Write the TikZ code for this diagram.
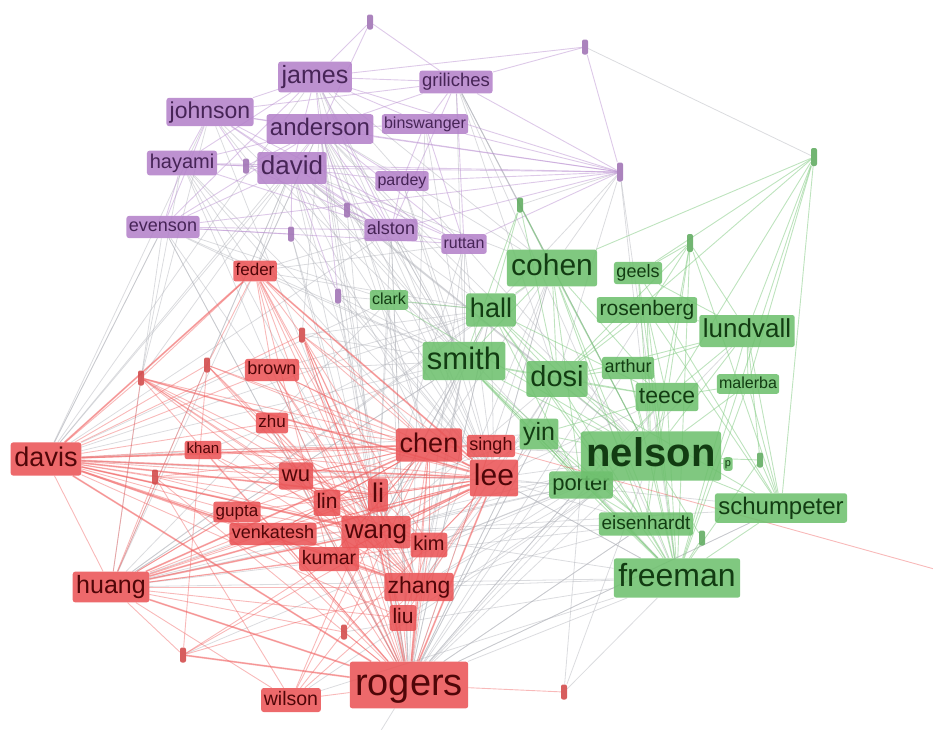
\documentclass[tikz,border=0pt]{standalone}
\usepackage{fontspec}
\setmainfont{Liberation Sans}
\usetikzlibrary{backgrounds}

\definecolor{vpurple}{RGB}{180,130,202}
\definecolor{vpurpletext}{RGB}{70,36,86}
\definecolor{vgreen}{RGB}{110,192,110}
\definecolor{vgreentext}{RGB}{18,60,18}
\definecolor{vred}{RGB}{234,84,86}
\definecolor{vredtext}{RGB}{80,6,8}
\definecolor{pline}{RGB}{188,148,210}
\definecolor{gline}{RGB}{125,200,125}
\definecolor{rline}{RGB}{240,100,100}
\definecolor{xline}{RGB}{175,177,184}

\tikzset{
	vlabel/.style={rounded corners=2.5pt, inner xsep=0.14*#1pt, inner ysep=0.13*#1pt,
		text height=0.75*#1pt, text depth=0.22*#1pt, fill opacity=.88, text opacity=1,
		font=\fontsize{#1}{#1}\selectfont},
	pnode/.style={vlabel=#1, fill=vpurple, text=vpurpletext},
	gnode/.style={vlabel=#1, fill=vgreen, text=vgreentext},
	rnode/.style={vlabel=#1, fill=vred, text=vredtext},
	vdot/.style={rounded corners=2pt, minimum width=6pt, minimum height=15pt, inner sep=0pt, fill opacity=.9},
	pdot/.style={vdot, fill=vpurple!90!black},
	gdot/.style={vdot, fill=vgreen!90!black},
	rdot/.style={vdot, fill=vred!90!black},
	pedge/.style={pline, line width=.9pt, opacity=.5},
	gedge/.style={gline, line width=.9pt, opacity=.5},
	redge/.style={rline, line width=.9pt, opacity=.45},
	xedge/.style={xline, line width=.8pt, opacity=.45},
}

\begin{document}
\begin{tikzpicture}[x=1pt, y=-1pt]
	\useasboundingbox (0,0) rectangle (933,729);
	%%%%% PURPLE CLUSTER %%%%%
	\node[pdot] (pd1) at (370,22) {};
	\node[pdot] (pd2) at (585,47) {};
	\node[pdot] (pd3) at (246,166) {};
	\node[pdot, minimum height=19pt] (pd4) at (620,172) {};
	\node[pdot] (pd5) at (347,210) {};
	\node[pdot] (pd6) at (291,234) {};
	\node[pdot] (pd7) at (338,296) {};
	\node[pnode=25] (james) at (315,77) {james};
	\node[pnode=18.5] (griliches) at (456,82) {griliches};
	\node[pnode=23] (johnson) at (210,112) {johnson};
	\node[pnode=24] (anderson) at (320,129) {anderson};
	\node[pnode=16] (binswanger) at (425,124) {binswanger};
	\node[pnode=20] (hayami) at (182,163) {hayami};
	\node[pnode=26] (david) at (292,168) {david};
	\node[pnode=16] (pardey) at (402,181) {pardey};
	\node[pnode=18] (evenson) at (163,227) {evenson};
	\node[pnode=18] (alston) at (391,230) {alston};
	\node[pnode=16] (ruttan) at (464,244) {ruttan};
	
	%%%%% GREEN CLUSTER %%%%%
	\node[gdot, minimum height=18pt] (gd1) at (814,157) {};
	\node[gdot] (gd2) at (520,205) {};
	\node[gdot, minimum height=18pt] (gd3) at (690,243) {};
	\node[gdot] (gd4) at (760,460) {};
	\node[gdot] (gd5) at (702,538) {};
	\node[gnode=30] (cohen) at (552,268) {cohen};
	\node[gnode=18] (geels) at (638,273) {geels};
	\node[gnode=16] (clark) at (389,300) {clark};
	\node[gnode=27] (hall) at (491,310) {hall};
	\node[gnode=21] (rosenberg) at (647,310) {rosenberg};
	\node[gnode=26] (lundvall) at (747,331) {lundvall};
	\node[gnode=31] (smith) at (464,361) {smith};
	\node[gnode=29] (dosi) at (557,379) {dosi};
	\node[gnode=18] (arthur) at (628,368) {arthur};
	\node[gnode=23] (teece) at (667,397) {teece};
	\node[gnode=16] (malerba) at (748,384) {malerba};
	\node[gnode=25] (yin) at (539,434) {yin};
	\node[gnode=22] (porter) at (581,485) {porter};
	\node[gnode=40] (nelson) at (651,456) {\bfseries nelson};
	\node[gnode=11] (pp) at (728,464) {p};
	\node[gnode=24] (schumpeter) at (781,508) {schumpeter};
	\node[gnode=19] (eisenhardt) at (646,524) {eisenhardt};
	\node[gnode=32] (freeman) at (677,578) {freeman};
	
	%%%%% RED CLUSTER %%%%%
	\node[rdot] (rd1) at (302,335) {};
	\node[rdot] (rd2) at (207,365) {};
	\node[rdot] (rd3) at (141,378) {};
	\node[rdot] (rd4) at (155,477) {};
	\node[rdot] (rd5) at (183,655) {};
	\node[rdot] (rd6) at (344,632) {};
	\node[rdot] (rd7) at (564,692) {};
	\node[rnode=17] (feder) at (255,271) {feder};
	\node[rnode=18] (brown) at (272,370) {brown};
	\node[rnode=17] (zhu) at (272,423) {zhu};
	\node[rnode=15] (khan) at (203,450) {khan};
	\node[rnode=27] (davis) at (46,459) {davis};
	\node[rnode=27] (chen) at (429,445) {chen};
	\node[rnode=18] (singh) at (491,446) {singh};
	\node[rnode=30] (lee) at (494,478) {lee};
	\node[rnode=22] (wu) at (296,476) {wu};
	\node[rnode=21] (lin) at (327,503) {lin};
	\node[rnode=27] (li) at (378,495) {li};
	\node[rnode=17] (gupta) at (237,512) {gupta};
	\node[rnode=18] (venkatesh) at (273,534) {venkatesh};
	\node[rnode=26] (wang) at (376,532) {wang};
	\node[rnode=20] (kim) at (429,545) {kim};
	\node[rnode=19.5] (kumar) at (329,559) {kumar};
	\node[rnode=25] (huang) at (111,587) {huang};
	\node[rnode=23] (zhang) at (419,587) {zhang};
	\node[rnode=21] (liu) at (403,618) {liu};
	\node[rnode=38] (rogers) at (409,685) {rogers};
	\node[rnode=19.5] (wilson) at (291,700) {wilson};
	\coordinate (offR) at (945,572);
	\coordinate (offB) at (372,745);
	
	%%%%% LINKS %%%%%
	\begin{scope}[on background layer]
		% between clusters
		\foreach \a/\b in {rogers/nelson, rogers/freeman, rogers/porter, rogers/smith, rogers/cohen,
			rogers/dosi, rogers/schumpeter, rogers/eisenhardt, rogers/hall, rogers/yin, rogers/david,
			rogers/anderson, rogers/evenson, rogers/alston, lee/nelson, lee/smith, lee/freeman, lee/cohen,
			chen/smith, chen/nelson, wang/smith, wang/nelson, davis/smith, davis/hall, davis/david,
			davis/evenson, davis/anderson, davis/johnson, huang/smith, huang/nelson, huang/hall,
			feder/evenson, feder/alston, feder/david, feder/hayami, feder/anderson, feder/ruttan,
			smith/david, smith/anderson, smith/evenson, smith/alston, smith/johnson, hall/david,
			hall/anderson, cohen/david, cohen/anderson, cohen/james, nelson/david, nelson/anderson,
			nelson/james, nelson/griliches, freeman/david, freeman/griliches, dosi/david, clark/evenson,
			clark/anderson, clark/davis, clark/rogers, pd7/rogers, pd7/smith, pd7/hall, pd6/rogers,
			pd6/wang, pd5/smith, pd5/nelson, pd4/nelson, pd4/freeman, pd4/hall, pd4/dosi, pd4/gd2,
			pd4/cohen, pd2/gd1, james/rogers, james/smith, hayami/rogers, hayami/wang, evenson/wang,
			evenson/huang, griliches/nelson, ruttan/smith, ruttan/rogers, alston/smith, alston/rogers,
			yin/davis, yin/huang, porter/davis, porter/huang, porter/wang, eisenhardt/rogers,
			eisenhardt/lee, eisenhardt/huang, schumpeter/rogers, schumpeter/wang, freeman/huang,
			freeman/wilson, nelson/rd5, nelson/wilson, freeman/rd7, freeman/rd6, rd7/nelson, rd7/porter,
			rogers/offB, johnson/rd3, hayami/rd3, evenson/davis, johnson/wang, johnson/lee, james/lee,
			james/chen, anderson/lee, anderson/wang, anderson/chen, david/chen, david/lee, david/zhang,
			hayami/lee, hayami/chen, alston/lee, alston/wang, ruttan/lee, ruttan/wang, pardey/lee,
			pardey/smith, binswanger/smith, binswanger/rogers, griliches/smith, griliches/dosi,
			griliches/cohen, smith/wang, smith/zhang, smith/li, smith/huang, smith/kim, hall/lee,
			hall/wang, hall/rogers, hall/chen, cohen/lee, cohen/wang, cohen/zhang, cohen/huang,
			dosi/lee, dosi/wang, dosi/rogers, dosi/zhang, nelson/zhang, nelson/kim, nelson/liu,
			freeman/zhang, freeman/lee, freeman/wang, porter/zhang, porter/kim, porter/rogers,
			yin/rogers, yin/wang, yin/zhang, eisenhardt/zhang, eisenhardt/wang, teece/rogers,
			teece/lee, lundvall/rogers, schumpeter/lee, arthur/rogers, rosenberg/rogers, clark/wang,
			clark/lee, clark/huang, pd7/wang, pd7/lee, pd6/lee, pd5/wang, evenson/rogers, davis/alston,
			davis/james, huang/david, huang/anderson, feder/smith, feder/hall, brown/smith, brown/hall,
			rd1/smith, rd1/hall, rd1/anderson, rd3/david, rd2/david, khan/smith, zhu/hall}
			\draw[xedge] (\a) -- (\b);
		% purple
		\foreach \a/\b in {james/johnson, james/anderson, james/david, james/griliches, james/binswanger,
			james/hayami, james/pd1, james/pd4, james/alston, james/evenson, johnson/anderson,
			johnson/david, johnson/hayami, johnson/pd3, johnson/evenson, johnson/pd4, anderson/david,
			anderson/binswanger, anderson/griliches, anderson/pd4, anderson/pardey, anderson/alston,
			anderson/ruttan, david/hayami, david/pd3, david/pd5, david/alston, david/pardey, david/pd4,
			david/evenson, david/ruttan, griliches/binswanger, griliches/pd2, griliches/pd4,
			griliches/ruttan, griliches/alston, binswanger/pd4, binswanger/pardey, binswanger/ruttan,
			pardey/alston, pardey/pd4, alston/ruttan, alston/pd5, evenson/pd6, evenson/alston,
			hayami/pd3, hayami/evenson, pd1/anderson, pd1/griliches, pd2/pd4, pd2/james, ruttan/pd4,
			pd6/david, pd7/david, pd7/anderson, pd5/anderson, hayami/pd4, johnson/griliches,
			johnson/alston, johnson/ruttan, hayami/alston, hayami/anderson, evenson/anderson,
			evenson/ruttan, pd3/anderson, pd3/alston, pd4/alston, pd4/evenson}
			\draw[pedge] (\a) -- (\b);
		% green
		\foreach \a/\b in {nelson/freeman, nelson/schumpeter, nelson/dosi, nelson/teece, nelson/cohen,
			nelson/hall, nelson/smith, nelson/rosenberg, nelson/lundvall, nelson/arthur, nelson/malerba,
			nelson/porter, nelson/eisenhardt, nelson/yin, nelson/gd4, nelson/gd5, nelson/gd3, nelson/gd2,
			nelson/geels, nelson/pp, freeman/lundvall, freeman/schumpeter, freeman/dosi, freeman/teece,
			freeman/cohen, freeman/rosenberg, freeman/eisenhardt, freeman/gd3, freeman/gd1, freeman/smith,
			freeman/hall, freeman/malerba, freeman/gd5, freeman/porter, freeman/yin, lundvall/gd1,
			lundvall/gd3, lundvall/schumpeter, lundvall/malerba, lundvall/teece, lundvall/dosi,
			lundvall/rosenberg, schumpeter/gd1, schumpeter/gd4, schumpeter/gd3, schumpeter/dosi,
			schumpeter/rosenberg, cohen/gd2, cohen/dosi, cohen/teece, cohen/hall, cohen/smith,
			cohen/eisenhardt, cohen/porter, gd2/dosi, gd2/smith, gd2/hall, gd3/teece, gd3/rosenberg,
			gd3/dosi, gd1/teece, gd1/malerba, gd1/geels, dosi/teece, dosi/rosenberg, dosi/arthur,
			dosi/smith, dosi/yin, smith/hall, smith/yin, smith/porter, hall/porter, teece/eisenhardt,
			teece/porter, arthur/teece, geels/gd3, geels/lundvall, clark/hall, clark/nelson,
			eisenhardt/yin, gd1/dosi, gd1/cohen, gd4/freeman, gd4/lundvall, smith/freeman,
			smith/teece, smith/eisenhardt, hall/dosi, hall/teece, hall/eisenhardt, yin/porter,
			yin/teece, arthur/freeman, arthur/lundvall, malerba/schumpeter, malerba/teece,
			geels/freeman, geels/schumpeter, rosenberg/teece, eisenhardt/porter}
			\draw[gedge] (\a) -- (\b);
		% red
		\foreach \a/\b in {rogers/davis, rogers/huang, rogers/lee, rogers/chen, rogers/wang, rogers/zhang,
			rogers/liu, rogers/li, rogers/lin, rogers/wu, rogers/kumar, rogers/venkatesh, rogers/gupta,
			rogers/khan, rogers/zhu, rogers/brown, rogers/feder, rogers/wilson, rogers/rd5, rogers/rd6,
			rogers/rd4, rogers/rd3, rogers/rd7, rogers/kim, rogers/singh, rogers/rd1, davis/feder,
			davis/rd3, davis/rd2, davis/brown, davis/zhu, davis/khan, davis/wu, davis/lin, davis/li,
			davis/chen, davis/lee, davis/wang, davis/kim, davis/kumar, davis/venkatesh, davis/gupta,
			davis/zhang, davis/huang, davis/rd4, davis/rd1, davis/singh, davis/liu, huang/rd3, huang/rd4,
			huang/wu, huang/lin, huang/li, huang/chen, huang/lee, huang/wang, huang/zhang, huang/kim,
			huang/kumar, huang/venkatesh, huang/gupta, huang/rd5, huang/rd6, huang/wilson, huang/rd2,
			huang/liu, feder/rd3, feder/rd2, feder/brown, feder/wang, feder/zhang, feder/li, feder/lee,
			feder/kumar, chen/lee, chen/wang, chen/li, chen/lin, chen/wu, chen/zhang, chen/kim, chen/liu,
			chen/singh, chen/rd1, chen/zhu, chen/venkatesh, chen/kumar, lee/wang, lee/li, lee/lin,
			lee/kim, lee/zhang, lee/liu, lee/wu, lee/rd1, lee/venkatesh, lee/kumar, lee/gupta, lee/singh,
			wang/li, wang/lin, wang/zhang, wang/liu, wang/kim, wang/wu, wang/kumar, wang/zhu,
			wang/venkatesh, wang/rd3, wang/rd1, wang/khan, rd3/lee, rd3/li, rd3/zhang, rd3/chen,
			rd3/lin, rd3/kim, rd2/lee, rd2/zhang, rd2/rd5, rd2/lin, rd1/zhang, rd1/li, rd1/kim,
			wilson/rd6, wilson/zhang, wilson/wang, wilson/rd4, wilson/li, rd5/wang, rd5/lee, rd5/zhang,
			gupta/zhang, venkatesh/zhang, kumar/zhang, li/zhang, lin/zhang, wu/zhang, li/kim, lin/li,
			wu/lin, singh/offR, brown/lee, brown/chen, brown/wang, brown/zhang, zhu/lee, zhu/zhang,
			khan/lee, khan/chen, khan/zhang, gupta/chen, gupta/wang, venkatesh/lee, venkatesh/chen,
			kumar/lee, kumar/chen, wu/chen, wu/li, lin/kim, liu/kim, rd4/lee, rd4/wang, rd4/chen,
			rd6/lee, rd6/chen, rd2/chen, rd2/wang, rd1/wang, feder/chen, feder/rd1}
			\draw[redge] (\a) -- (\b);
		% stronger red links
		\foreach \a/\b in {davis/feder, davis/lee, davis/wang, davis/chen, huang/wang, huang/lee,
			rogers/lee, rogers/wang, rogers/zhang, rogers/huang, rogers/davis, chen/lee, wang/lee,
			rd3/lee, rd5/rogers, feder/lee, davis/zhang, huang/chen, davis/li}
			\draw[redge, line width=1.8pt] (\a) -- (\b);
	\end{scope}
\end{tikzpicture}
\end{document}
